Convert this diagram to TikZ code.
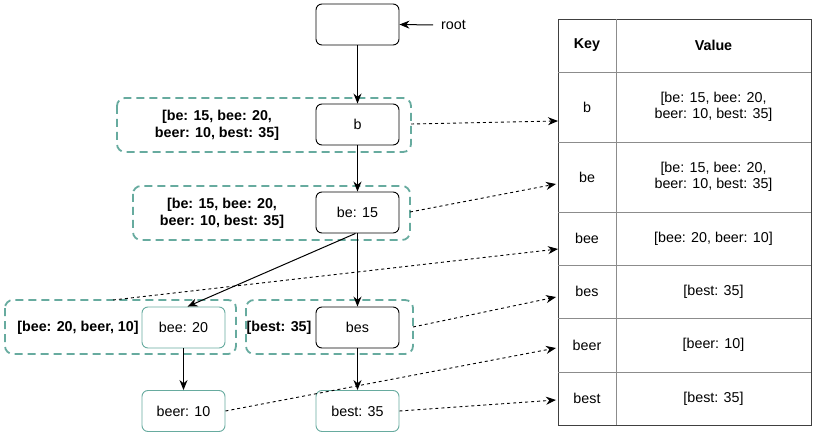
\documentclass[tikz,border=0pt]{standalone}
\usepackage{fontspec}
\setmainfont{Liberation Sans}
\usetikzlibrary{arrows.meta}
\definecolor{teal1}{HTML}{67AB9F}
\begin{document}
\begin{tikzpicture}[x=1pt,y=-1pt,
  font=\fontsize{14.3}{16.5}\selectfont,
  tnode/.style={draw=black, rounded corners=6pt, minimum width=83pt, minimum height=41pt, inner sep=0pt, line width=0.9pt},
  gnode/.style={tnode, draw=teal1},
  gbox/.style={draw=teal1, dashed, dash pattern=on 8pt off 5pt, line width=1.8pt, rounded corners=8pt},
  lbl/.style={font=\fontsize{14.3}{17}\selectfont\bfseries, align=center},
  edge/.style={-{Stealth[length=10pt,width=8pt]}, line width=1pt},
  dedge/.style={-{Stealth[length=10pt,width=8pt]}, dash pattern=on 3pt off 3pt, line width=0.9pt},
  cell/.style={align=center},
]
\useasboundingbox (0,0) rectangle (818,435);

% dashed grouping boxes
\draw[gbox] (117,98) rectangle (411,152);
\draw[gbox] (133,186) rectangle (410,240);
\draw[gbox] (5,300) rectangle (236,354);
\draw[gbox] (246,300) rectangle (413,354);
\coordinate (gb) at (411,124);
\coordinate (gbe) at (410,212);
\coordinate (gbee) at (113,300);
\coordinate (gbes) at (413,327);

% tree nodes
\node[tnode] (root) at (357.5,24.5) {};
\node[tnode] (b) at (357.5,124.5) {b};
\node[tnode] (be) at (357.5,212.5) {be: 15};
\node[gnode] (bee) at (183.5,327.5) {bee: 20};
\node[tnode] (bes) at (357.5,327.5) {bes};
\node[gnode] (beer) at (183.5,411) {beer: 10};
\node[gnode] (best) at (357.5,411) {best: 35};

\node[anchor=west, inner sep=0pt] (rootlbl) at (441,25) {root};
\coordinate (rootstart) at (433,25);

% labels
\node[lbl] (lb) at (217,125) {[be: 15, bee: 20,\\beer: 10, best: 35]};
\node[lbl] (lbe) at (222,213) {[be: 15, bee: 20,\\beer: 10, best: 35]};
\node[lbl] (lbee) at (78,328) {[bee: 20, beer, 10]};
\node[lbl] (lbes) at (279,328) {[best: 35]};

% tree edges
\draw[edge] (rootstart) -- (root.east);
\draw[edge] (root) -- (b);
\draw[edge] (b) -- (be);
\draw[edge] (be.south) -- (bes.north);
\draw[edge] ([xshift=-2pt]be.south) -- ([xshift=4pt]bee.north);
\draw[edge] (bee) -- (beer);
\draw[edge] (bes) -- (best);

% table
\def\tl{558}\def\tr{811}\def\tm{616}
\draw[line width=0.9pt, draw=black!75] (\tl,19) rectangle (\tr,425);
\draw[draw=black!45, line width=0.8pt] (\tm,19) -- (\tm,425);
\foreach \yy in {72,142,212,265,318,372}
  \draw[draw=black!45, line width=0.8pt] (\tl,\yy) -- (\tr,\yy);

\node[font=\fontsize{14.3}{16}\selectfont\bfseries] (k0) at (587,45.5) {Key};
\node[font=\fontsize{14.3}{16}\selectfont\bfseries] (v0) at (713.5,45.5) {Value};
\node (k1) at (587,107) {b};
\node[cell] (v1) at (713.5,107) {[be: 15, bee: 20,\\beer: 10, best: 35]};
\node (k2) at (587,177) {be};
\node[cell] (v2) at (713.5,177) {[be: 15, bee: 20,\\beer: 10, best: 35]};
\node (k3) at (587,238.5) {bee};
\node (v3) at (713.5,238.5) {[bee: 20, beer: 10]};
\node (k4) at (587,291.5) {bes};
\node (v4) at (713.5,291.5) {[best: 35]};
\node (k5) at (587,345) {beer};
\node (v5) at (713.5,345) {[beer: 10]};
\node (k6) at (587,398.5) {best};
\node (v6) at (713.5,398.5) {[best: 35]};

\coordinate (t1) at (558,121);
\coordinate (t2) at (556,184);
\coordinate (t3) at (558,249);
\coordinate (t4) at (556,297);
\coordinate (t5) at (556,348);
\coordinate (t6) at (556,400);

% dashed pointers
\draw[dedge] (gb) -- (t1);
\draw[dedge] (gbe) -- (t2);
\draw[dedge] (gbee) -- (t3);
\draw[dedge] (gbes) -- (t4);
\draw[dedge] (beer.east) -- (t5);
\draw[dedge] (best.east) -- (t6);
\end{tikzpicture}
\end{document}
